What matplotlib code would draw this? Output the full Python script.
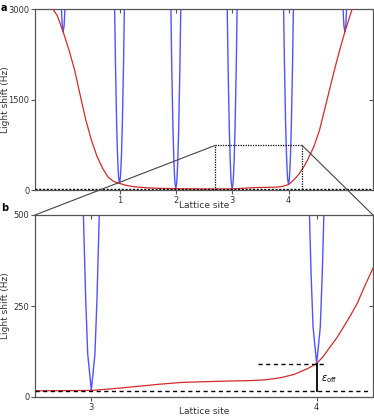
import numpy as np
import matplotlib.pyplot as plt
from matplotlib.patches import ConnectionPatch

# Red curve: trap light shift along the lattice
red_site = [-0.25, -0.18, -0.1, 0.0, 0.1, 0.2, 0.3, 0.4, 0.5, 0.6, 0.7, 0.8, 0.9, 1.0,
            1.1, 1.25, 1.5, 1.75, 2.0, 2.25, 2.5, 2.75, 3.0, 3.1, 3.22, 3.3, 3.4, 3.5,
            3.62, 3.7, 3.77, 3.84, 3.9, 3.96, 4.0, 4.03, 4.06, 4.09, 4.12, 4.15, 4.18,
            4.21, 4.25, 4.3, 4.35, 4.45, 4.55, 4.625, 4.7, 4.8, 4.9, 5.0, 5.13, 5.2]
red_hz = [3300, 3000, 2880, 2620, 2330, 2000, 1580, 1170, 830, 560, 360, 210, 140, 110,
          80, 55, 36, 27, 22, 19, 17, 17, 18, 23, 30, 35, 40, 42,
          44, 45, 47, 53, 62, 78, 92, 112, 138, 163, 193, 224, 257,
          300, 354, 430, 520, 718, 990, 1271, 1555, 1934, 2290, 2620, 3000, 3250]

# Blue wells: site, bottom of well, and well profile (rise vs half width in sites)
well_site = [0, 1, 2, 3, 4, 5]
well_min = [2620, 110, 22, 18, 92, 2620]
well_rise = [0, 100, 250, 500, 1000, 2000, 3000]
well_halfwidth = [0, 0.016, 0.025, 0.036, 0.051, 0.072, 0.088]

baseline = 16
ticks_a = [1, 2, 3, 4]
ticks_b = [3, 4]

red_c = '#d42a2a'
blue_c = '#5252ff'
grey = '#555555'

plt.rcParams['font.family'] = 'DejaVu Sans'
fig = plt.figure(figsize=(3.74, 4.17), dpi=100)
ax_a = fig.add_axes([35/374, 1-190/417, 338/374, 181/417])
ax_b = fig.add_axes([35/374, 1-397/417, 338/374, 182/417])


def draw_wells(ax):
    hw = np.array(well_halfwidth)
    rise = np.array(well_rise)
    for s, m in zip(well_site, well_min):
        xs = np.concatenate([s - hw[::-1], s + hw[1:]])
        ys = np.concatenate([m + rise[::-1], m + rise[1:]])
        ax.plot(xs, ys, color=blue_c, lw=1.0, zorder=2)


def style(ax, xticks, yticks, xlim, ylim, xlab_y):
    ax.set_xticks(xticks)
    ax.set_yticks(yticks)
    ax.set_xlim(*xlim)
    ax.set_ylim(*ylim)
    ax.tick_params(direction='out', length=3, width=0.8, color=grey,
                   labelsize=6, labelcolor='#333333', pad=1)
    for sp in ax.spines.values():
        sp.set_color(grey)
        sp.set_linewidth(0.9)
    # inward ticks on top and right
    top = ax.secondary_xaxis('top')
    top.set_xticks(xticks)
    top.tick_params(direction='in', length=3, width=0.8, color=grey, labeltop=False)
    top.spines['top'].set_visible(False)
    right = ax.secondary_yaxis('right')
    right.set_yticks(yticks[1:-1])
    right.tick_params(direction='in', length=3, width=0.8, color=grey, labelright=False)
    right.spines['right'].set_visible(False)
    ax.set_xlabel('Lattice site', fontsize=6.5, color='#333333', va='center')
    ax.xaxis.set_label_coords(0.5, xlab_y)
    ax.set_ylabel('Light shift (Hz)', fontsize=6.5, color='#333333', va='center')
    ax.yaxis.set_label_coords(-0.088, 0.5)


# Panel a
ax_a.plot(red_site, red_hz, color=red_c, lw=0.9, zorder=3)
draw_wells(ax_a)
ax_a.axhline(baseline, color='k', lw=1.0, ls=(0, (1.5, 1.2)), zorder=4)
style(ax_a, ticks_a, [0, 1500, 3000], (-0.5, 5.5), (0, 3000), -0.085)

# dotted box marking the zoomed region
bx0, bx1, by1 = 2.7, 4.24, 740
ax_a.plot([bx0, bx0, bx1, bx1], [0, by1, by1, 0], color='k', lw=0.9,
          ls=(0, (1, 1)), zorder=4)

# Panel b
ax_b.plot(red_site, red_hz, color=red_c, lw=0.9, zorder=3)
draw_wells(ax_b)
ax_b.plot([2.75, 4.235], [baseline, baseline], color='k', lw=1.0, ls=(0, (3, 2.5)), zorder=4)
ax_b.plot([3.74, 4.04], [92, 92], color='k', lw=1.0, ls=(0, (3, 2.5)), zorder=4)
ax_b.plot([4.0, 4.0], [baseline, 92], color='k', lw=1.3, zorder=4)
ax_b.text(4.02, 50, r'$\epsilon_{\mathrm{off}}$', fontsize=7, va='center', ha='left')
style(ax_b, ticks_b, [0, 250, 500], (2.75, 4.25), (0, 500), -0.08)

# lines connecting the box to panel b
for xa, xb in [(bx0, 0), (bx1, 1)]:
    con = ConnectionPatch(xyA=(xa, by1), coordsA=ax_a.transData,
                          xyB=(xb, 1), coordsB=ax_b.transAxes,
                          color='#444444', lw=0.8)
    fig.add_artist(con)

fig.text(0.003, 0.992, 'a', fontsize=7, fontweight='bold', va='top')
fig.text(0.003, 1-203/417, 'b', fontsize=7, fontweight='bold', va='top')

fig.savefig('out.png', dpi=100)
